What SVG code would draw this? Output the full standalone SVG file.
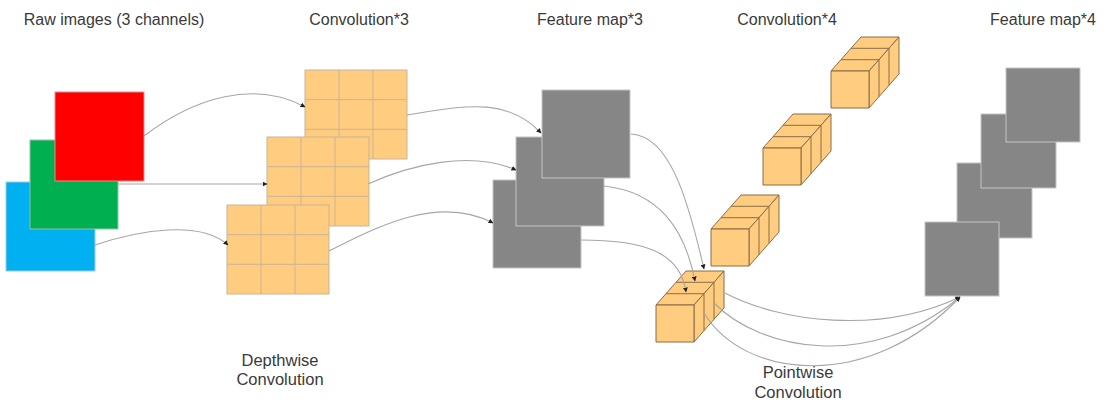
<svg xmlns="http://www.w3.org/2000/svg" width="1110" height="404" viewBox="0 0 1110 404">
  <style>
    .label { font-family: "Liberation Sans", Arial, sans-serif; font-size: 16px; fill: #3a3a3a; text-anchor: middle; }
    .caption { font-size: 16.5px; }
    .map { fill: #868686; stroke: #c4c4c4; stroke-width: 1; }
    .cell { fill: #ffcc80; stroke: #c9b597; stroke-width: 1; }
    .face { fill: #ffcc80; stroke: #8a6d45; stroke-width: 1; stroke-linejoin: round; }
    .edge { fill: none; stroke: #8a6d45; stroke-width: 1; }
    .link { fill: none; stroke: #a6a6a6; stroke-width: 1.1; }
  </style>
  <defs>
    <marker id="arrow" viewBox="0 0 10 10" refX="9" refY="5" markerWidth="5" markerHeight="5" markerUnits="userSpaceOnUse" orient="auto">
      <path d="M0,0 L10,5 L0,10 z" fill="#222"/>
    </marker>
    <!-- 3x3 kernel grid, 102 x 89 -->
    <g id="kernel">
      <rect class="cell" x="0" y="0" width="102" height="89"/>
      <path class="cell" d="M34,0 V89 M68,0 V89 M0,29.7 H102 M0,59.3 H102" fill="none"/>
    </g>
    <!-- 1x1x3 pointwise kernel drawn as a stack of three cubes -->
    <g id="cube">
      <path class="face" d="M0,0 L38,0 L68,-34 L30,-34 Z"/>
      <path class="face" d="M38,0 L68,-34 L68,3 L38,37 Z"/>
      <rect class="face" x="0" y="0" width="38" height="37"/>
      <path class="edge" d="M10,-11.3 H48 L48,25.7 M20,-22.7 H58 L58,14.3"/>
    </g>
  </defs>

  <!-- column titles -->
  <g id="titles">
    <text class="label" x="114" y="25">Raw images (3 channels)</text>
    <text class="label" x="359" y="25">Convolution*3</text>
    <text class="label" x="590" y="25">Feature map*3</text>
    <text class="label" x="787" y="25">Convolution*4</text>
    <text class="label" x="1043" y="25">Feature map*4</text>
  </g>

  <!-- input channels -->
  <g id="raw-images">
    <rect x="6" y="182" width="89" height="89" fill="#00b0f0" stroke="#9ecbe0" stroke-width="1"/>
    <rect x="30" y="140" width="88" height="89" fill="#00b050" stroke="#8fc4a3" stroke-width="1"/>
    <rect x="55" y="92" width="89" height="89" fill="#ff0000" stroke="#e08c8c" stroke-width="1"/>
  </g>

  <!-- depthwise kernels -->
  <g id="depthwise-kernels">
    <use href="#kernel" x="305" y="70"/>
    <use href="#kernel" x="267" y="137"/>
    <use href="#kernel" x="227" y="205"/>
  </g>

  <!-- intermediate feature maps -->
  <g id="feature-maps-3">
    <rect class="map" x="493" y="180" width="88" height="88"/>
    <rect class="map" x="516" y="137" width="88" height="89"/>
    <rect class="map" x="542" y="90" width="88" height="88"/>
  </g>

  <!-- pointwise kernels -->
  <g id="pointwise-kernels">
    <use href="#cube" x="656" y="305"/>
    <use href="#cube" x="711" y="229"/>
    <use href="#cube" x="763" y="148"/>
    <use href="#cube" x="831" y="71"/>
  </g>

  <!-- output feature maps -->
  <g id="feature-maps-4">
    <rect class="map" x="957" y="163" width="75" height="75"/>
    <rect class="map" x="981" y="114" width="75" height="74"/>
    <rect class="map" x="1006" y="68" width="74" height="74"/>
    <rect class="map" x="925" y="222" width="74" height="74"/>
  </g>

  <!-- stage captions -->
  <g id="captions">
    <text class="label caption" x="280" y="366">Depthwise</text>
    <text class="label caption" x="280" y="385">Convolution</text>
    <text class="label caption" x="798" y="378">Pointwise</text>
    <text class="label caption" x="798" y="398">Convolution</text>
  </g>

  <!-- data flow -->
  <g id="connectors">
    <path class="link" marker-end="url(#arrow)" d="M144,136 C195,97 255,80 305,107"/>
    <path class="link" marker-end="url(#arrow)" d="M118,184 L267,184"/>
    <path class="link" marker-end="url(#arrow)" d="M95,245 C140,230 200,220 228,245"/>

    <path class="link" marker-end="url(#arrow)" d="M407,115 C460,107 505,95 541,133"/>
    <path class="link" marker-end="url(#arrow)" d="M368,184 C410,165 470,150 516,170"/>
    <path class="link" marker-end="url(#arrow)" d="M329,251 C380,225 440,195 493,223"/>

    <path class="link" marker-end="url(#arrow)" d="M631,134 C670,136 688,200 704,269"/>
    <path class="link" marker-end="url(#arrow)" d="M604,186 C660,192 685,230 695,281"/>
    <path class="link" marker-end="url(#arrow)" d="M581,240 C640,240 680,250 686,292"/>

    <path class="link" marker-end="url(#arrow)" d="M725,293 C780,322 880,335 960,297"/>
    <path class="link" marker-end="url(#arrow)" d="M714,303 C760,350 870,372 960,297"/>
    <path class="link" marker-end="url(#arrow)" d="M704,313 C745,380 870,392 960,297"/>
  </g>
</svg>
